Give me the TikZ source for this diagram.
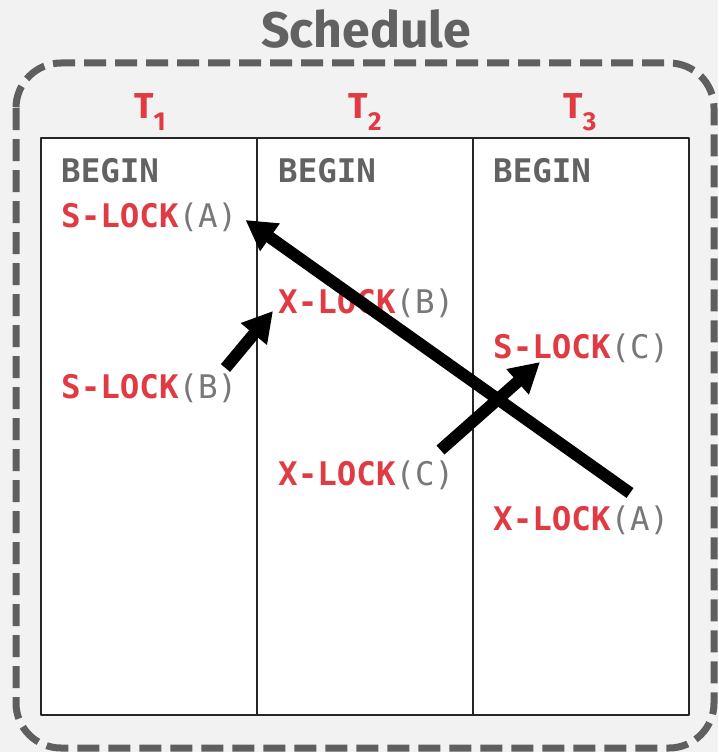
\documentclass[tikz,border=0pt]{standalone}
\usepackage{fontspec}
\setsansfont{Fira Sans}
\setmonofont{DejaVu Sans Mono}
\usetikzlibrary{arrows.meta,calc}
\definecolor{lockred}{RGB}{224,58,66}
\definecolor{bggray}{RGB}{242,242,242}
\definecolor{framegray}{RGB}{95,95,95}
\definecolor{txtgray}{RGB}{98,98,98}
\definecolor{argray}{RGB}{120,120,120}
\newcommand{\lck}[2]{\textcolor{lockred}{\bfseries #1}\textcolor{argray}{#2}}
\begin{document}
\begin{tikzpicture}[x=1pt,y=-1pt,line join=round]
	\tikzset{op/.style={anchor=base west,inner sep=0pt,font=\ttfamily\fontsize{32.5}{36}\selectfont},
		edge/.style={line width=12pt,-{Triangle[length=30pt,width=32pt]}},
		tname/.style={anchor=base,inner sep=0pt,text=lockred,font=\sffamily\bfseries\fontsize{36}{40}\selectfont}}
	\useasboundingbox (0,0) rectangle (718,752);
	\fill[bggray] (0,0) rectangle (718,752);
	% frame and title
	\draw[framegray,line width=7pt,dash pattern=on 22pt off 9pt,rounded corners=45pt] (16,63) rectangle (714,748);
	\node[anchor=base,inner sep=0pt,text=txtgray,font=\sffamily\bfseries\fontsize{50}{56}\selectfont] (title) at (366,48) {Schedule};
	% table
	\draw[line width=2pt,draw=black!85,fill=white] (41,138) rectangle (689,715);
	\foreach \x in {257,473}
	\draw[line width=2pt,black!85] (\x,138)--(\x,715);
	\foreach \x/\n in {150/1,365/2,580/3}
	\node[tname] (t\n) at (\x,118) {T\raisebox{-12pt}{\fontsize{26}{28}\selectfont\n}};
	\foreach \x/\n in {61/1,278/2,493/3}
	\node[op,text=txtgray] (begin\n) at (\x,182) {\bfseries BEGIN};
	% operations
	\node[op] (slockA) at (61,227) {\lck{S-LOCK}{(A)}};
	\node[op] (xlockB) at (278,313) {\lck{X-LOCK}{(B)}};
	\node[op] (slockC) at (493,358) {\lck{S-LOCK}{(C)}};
	\node[op] (slockB) at (61,398) {\lck{S-LOCK}{(B)}};
	\node[op] (xlockC) at (278,485) {\lck{X-LOCK}{(C)}};
	\node[op] (xlockA) at (493,530) {\lck{X-LOCK}{(A)}};
	% waits-for edges
	\draw[edge] ($(xlockA.base west)+(137,-37)$) -- ($(slockA.base east)+(8,-7)$);
	\draw[edge] ($(slockB.base east)+(-12,-30)$) -- ($(xlockB.base west)+(-5,-2)$);
	\draw[edge] ($(xlockC.base east)+(-14,-35)$) -- ($(slockC.base west)+(47,4)$);
\end{tikzpicture}
\end{document}
